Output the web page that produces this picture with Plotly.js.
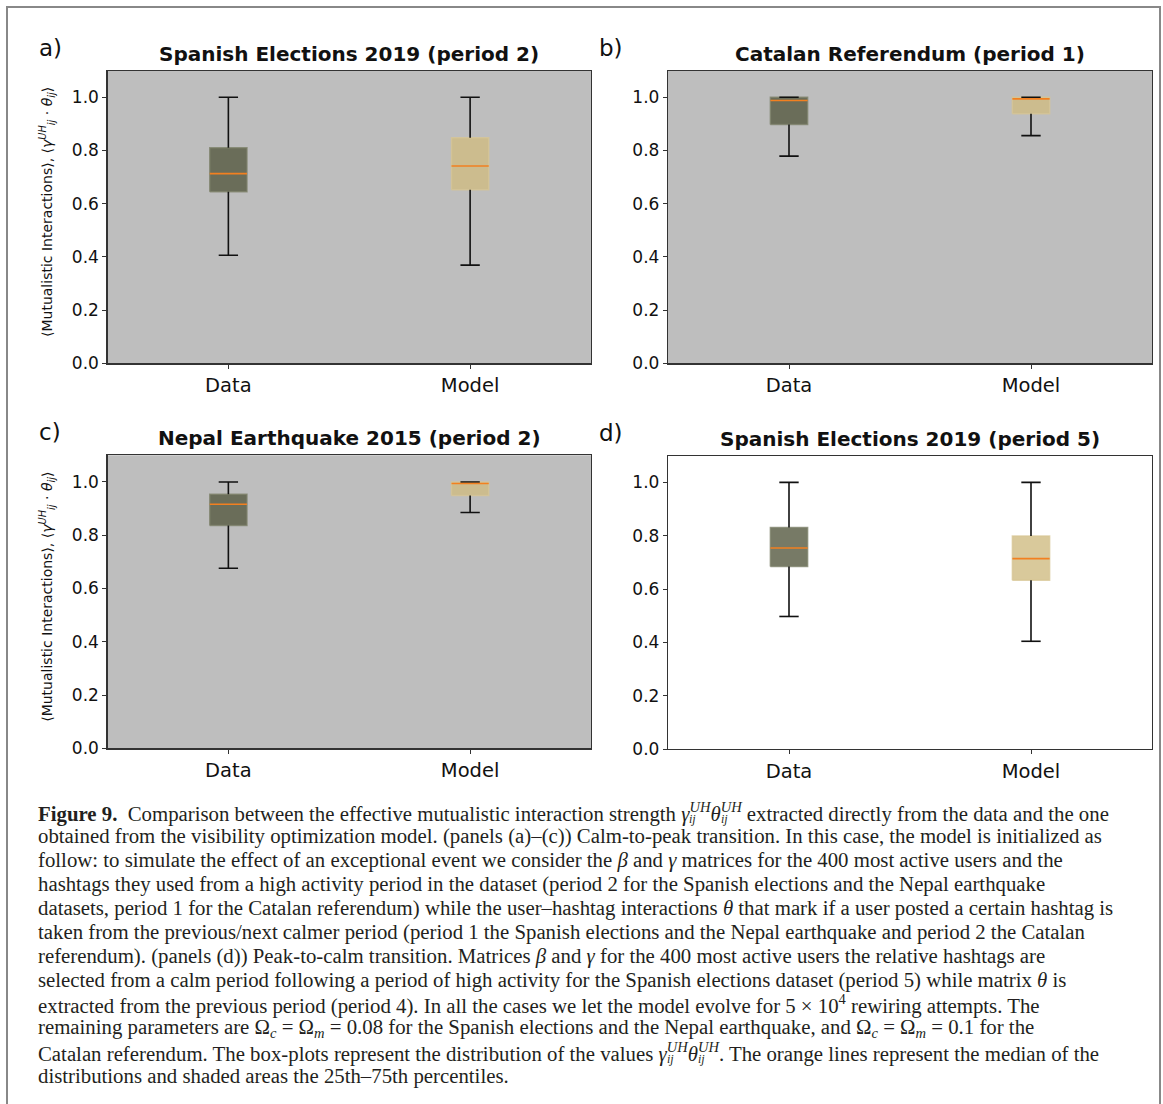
<!DOCTYPE html>
<html>
<head>
<meta charset="utf-8">
<script src="https://cdn.plot.ly/plotly-3.0.1.min.js"></script>
<style>html,body{margin:0;padding:0;background:#fff;}#chart{width:1163px;height:1104px;}</style>
</head>
<body>
<div id="chart"></div>
<script>
// ---------- DATA ----------
const categories = ['Data', 'Model'];
const positions = [1, 2];
const panelLabels = ['a)', 'b)', 'c)', 'd)'];
const panelTitles = [
  'Spanish Elections 2019 (period 2)',
  'Catalan Referendum (period 1)',
  'Nepal Earthquake 2015 (period 2)',
  'Spanish Elections 2019 (period 5)'
];

// panel a
const aLow  = [0.406, 0.369];
const aQ1   = [0.645, 0.652];
const aMed  = [0.713, 0.742];
const aQ3   = [0.810, 0.848];
const aHigh = [1.0, 1.0];
// panel b
const bLow  = [0.779, 0.856];
const bQ1   = [0.898, 0.938];
const bMed  = [0.988, 0.994];
const bQ3   = [1.0, 1.0];
const bHigh = [1.0, 1.0];
// panel c
const cLow  = [0.676, 0.885];
const cQ1   = [0.836, 0.949];
const cMed  = [0.916, 0.994];
const cQ3   = [0.954, 1.0];
const cHigh = [1.0, 1.0];
// panel d
const dLow  = [0.497, 0.404];
const dQ1   = [0.684, 0.633];
const dMed  = [0.754, 0.714];
const dQ3   = [0.831, 0.799];
const dHigh = [1.0, 1.0];

const yTickVals = [0.0, 0.2, 0.4, 0.6, 0.8, 1.0];
const yTitle = '⟨Mutualistic Interactions⟩, ⟨<i>γ</i><sup><i>UH</i></sup><sub><i>ij</i></sub> · <i>θ</i><sub><i>ij</i></sub>⟩';

const gUH = '<i>γ</i><sup><i>UH</i></sup><i>θ</i><sup><i>UH</i></sup>';
const captionLines = [
  '<b>Figure 9.</b>  Comparison between the effective mutualistic interaction strength ' + gUH + ' extracted directly from the data and the one',
  'obtained from the visibility optimization model. (panels (a)–(c)) Calm-to-peak transition. In this case, the model is initialized as',
  'follow: to simulate the effect of an exceptional event we consider the <i>β</i> and <i>γ</i> matrices for the 400 most active users and the',
  'hashtags they used from a high activity period in the dataset (period 2 for the Spanish elections and the Nepal earthquake',
  'datasets, period 1 for the Catalan referendum) while the user–hashtag interactions <i>θ</i> that mark if a user posted a certain hashtag is',
  'taken from the previous/next calmer period (period 1 the Spanish elections and the Nepal earthquake and period 2 the Catalan',
  'referendum). (panels (d)) Peak-to-calm transition. Matrices <i>β</i> and <i>γ</i> for the 400 most active users the relative hashtags are',
  'selected from a calm period following a period of high activity for the Spanish elections dataset (period 5) while matrix <i>θ</i> is',
  'extracted from the previous period (period 4). In all the cases we let the model evolve for 5 × 10<sup>4</sup> rewiring attempts. The',
  'remaining parameters are Ω<sub><i>c</i></sub> = Ω<sub><i>m</i></sub> = 0.08 for the Spanish elections and the Nepal earthquake, and Ω<sub><i>c</i></sub> = Ω<sub><i>m</i></sub> = 0.1 for the',
  'Catalan referendum. The box-plots represent the distribution of the values ' + gUH + '. The orange lines represent the median of the',
  'distributions and shaded areas the 25th–75th percentiles.'
];
// subscripts "ij" placed below the γ/θ superscripts in the caption
const captionSubs = [
  {line: 0, after: '<b>Figure 9.</b>  Comparison between the effective mutualistic interaction strength '},
  {line: 10, after: 'Catalan referendum. The box-plots represent the distribution of the values '}
];

// ---------- STYLE / LAYOUT ----------
const W = 1163, H = 1104;
const px = v => v / W;
const py = v => 1 - v / H;
const panels = [
  {low: aLow, q1: aQ1, med: aMed, q3: aQ3, high: aHigh, x0: 107.5, x1: 591, y0: 70.7, y1: 363.3, gray: true, ytitle: true},
  {low: bLow, q1: bQ1, med: bMed, q3: bQ3, high: bHigh, x0: 668, x1: 1152, y0: 70.7, y1: 363.3, gray: true, ytitle: false},
  {low: cLow, q1: cQ1, med: cMed, q3: cQ3, high: cHigh, x0: 107.5, x1: 591, y0: 455.3, y1: 748.3, gray: true, ytitle: true},
  {low: dLow, q1: dQ1, med: dMed, q3: dQ3, high: dHigh, x0: 668, x1: 1152, y0: 455.7, y1: 749, gray: false, ytitle: false}
];
const fills = ['rgba(85,89,64,0.8)', 'rgba(207,187,130,0.8)'];
const edges = ['rgba(125,129,106,0.75)', 'rgba(215,198,148,0.75)'];
const boxHalf = 0.077, capHalf = 0.04;
const capFont = {family: 'Liberation Serif', size: 20.8, color: '#231f20'};

const traces = [];
const layout = {
  width: W, height: H,
  margin: {l: 0, r: 0, t: 0, b: 0},
  paper_bgcolor: '#ffffff',
  plot_bgcolor: 'rgba(0,0,0,0)',
  showlegend: false,
  shapes: [],
  annotations: []
};

panels.forEach((p, i) => {
  const n = i === 0 ? '' : String(i + 1);
  const xa = 'x' + n, ya = 'y' + n;
  layout['xaxis' + n] = {
    domain: [px(p.x0), px(p.x1)], anchor: ya, range: [0.5, 2.5],
    tickvals: positions, ticktext: categories,
    showgrid: false, zeroline: false, showline: true, mirror: true,
    linecolor: '#333', linewidth: 1.2, ticks: 'outside', ticklen: 4, tickcolor: '#333',
    tickfont: {family: 'DejaVu Sans', size: 19.5, color: '#111'}, fixedrange: true
  };
  layout['yaxis' + n] = {
    domain: [py(p.y1), py(p.y0)], anchor: xa, range: [0, 1.1],
    tickvals: yTickVals, tickformat: '.1f',
    showgrid: false, zeroline: false, showline: true, mirror: true,
    linecolor: '#333', linewidth: 1.2, ticks: 'outside', ticklen: 4, tickcolor: '#333',
    tickfont: {family: 'DejaVu Sans', size: 17, color: '#111'}, fixedrange: true
  };
  if (p.gray) {
    layout.shapes.push({type: 'rect', xref: xa + ' domain', yref: ya + ' domain', x0: 0, x1: 1, y0: 0, y1: 1,
      fillcolor: '#bebebe', line: {width: 0}, layer: 'below'});
  }
  positions.forEach((pos, k) => {
    // box (25th-75th percentiles)
    traces.push({type: 'scatter', mode: 'lines', xaxis: xa, yaxis: ya, hoverinfo: 'skip',
      x: [pos - boxHalf, pos + boxHalf, pos + boxHalf, pos - boxHalf, pos - boxHalf],
      y: [p.q1[k], p.q1[k], p.q3[k], p.q3[k], p.q1[k]],
      fill: 'toself', fillcolor: fills[k], line: {color: edges[k], width: 1.5}});
    // whiskers
    traces.push({type: 'scatter', mode: 'lines', xaxis: xa, yaxis: ya, hoverinfo: 'skip',
      x: [pos, pos, null, pos, pos],
      y: [p.low[k], p.q1[k], null, p.q3[k], p.high[k]],
      line: {color: '#111', width: 1.6}});
    // caps
    traces.push({type: 'scatter', mode: 'lines', xaxis: xa, yaxis: ya, hoverinfo: 'skip',
      x: [pos - capHalf, pos + capHalf, null, pos - capHalf, pos + capHalf],
      y: [p.low[k], p.low[k], null, p.high[k], p.high[k]],
      line: {color: '#111', width: 1.6}});
    // median
    traces.push({type: 'scatter', mode: 'lines', xaxis: xa, yaxis: ya, hoverinfo: 'skip',
      x: [pos - boxHalf, pos + boxHalf], y: [p.med[k], p.med[k]],
      line: {color: '#f28020', width: 1.6}});
  });
  // panel title
  layout.annotations.push({xref: 'paper', yref: 'paper', x: px((p.x0 + p.x1) / 2), y: py(p.y0 - 17),
    text: '<b>' + panelTitles[i] + '</b>', showarrow: false, xanchor: 'center', yanchor: 'middle',
    font: {family: 'DejaVu Sans', size: 20, color: '#111'}});
  // panel label
  layout.annotations.push({xref: 'paper', yref: 'paper', x: px(p.x0 - 71), y: py(p.y0 - 23),
    text: panelLabels[i], showarrow: false, xanchor: 'left', yanchor: 'middle',
    font: {family: 'DejaVu Sans', size: 23, color: '#111'}});
  if (p.ytitle) {
    layout.annotations.push({xref: 'paper', yref: 'paper', x: px(47), y: py((p.y0 + p.y1) / 2 - 5),
      text: yTitle, showarrow: false, textangle: -90, xanchor: 'center', yanchor: 'middle',
      font: {family: 'DejaVu Sans', size: 14, color: '#111'}});
  }
});

// frame of the figure
layout.shapes.push({type: 'line', xref: 'paper', yref: 'paper', x0: px(7), x1: px(7), y0: py(7), y1: 0, line: {color: '#888', width: 2}});
layout.shapes.push({type: 'line', xref: 'paper', yref: 'paper', x0: px(1160), x1: px(1160), y0: py(7), y1: 0, line: {color: '#888', width: 2}});
layout.shapes.push({type: 'line', xref: 'paper', yref: 'paper', x0: px(6), x1: px(1161), y0: py(7), y1: py(7), line: {color: '#888', width: 2}});

// caption
captionLines.forEach((t, j) => {
  layout.annotations.push({xref: 'paper', yref: 'paper', x: px(36), y: py(812 + 24 * j),
    text: t, showarrow: false, xanchor: 'left', yanchor: 'middle', align: 'left', font: capFont});
});

Plotly.newPlot('chart', traces, layout, {displayModeBar: false, staticPlot: true}).then(() => {
  // measure where the γ^UH θ^UH symbols fall, and add small "ij" subscripts below them
  const ctx = document.createElement('canvas').getContext('2d');
  const adds = [];
  captionSubs.forEach(s => {
    ctx.font = '20.8px "Liberation Serif"';
    const plain = s.after.replace(/<[^>]+>/g, '');
    let w = ctx.measureText(plain.replace('Figure 9.', '')).width;
    ctx.font = 'bold 20.8px "Liberation Serif"';
    if (plain.indexOf('Figure 9.') >= 0) w += ctx.measureText('Figure 9.').width;
    ctx.font = 'italic 20.8px "Liberation Serif"';
    const gw = ctx.measureText('γ').width;
    ctx.font = 'italic 14.56px "Liberation Serif"';
    const uw = ctx.measureText('UH').width;
    ctx.font = 'italic 20.8px "Liberation Serif"';
    const tw = ctx.measureText('θ').width;
    const y = 812 + 24 * s.line + 7;
    adds.push({xref: 'paper', yref: 'paper', x: px(37 + w + gw), y: py(y), text: '<i>ij</i>', showarrow: false,
      xanchor: 'left', yanchor: 'middle', font: {family: 'Liberation Serif', size: 12, color: '#231f20'}, borderpad: 0});
    adds.push({xref: 'paper', yref: 'paper', x: px(37 + w + gw + uw + tw), y: py(y), text: '<i>ij</i>', showarrow: false,
      xanchor: 'left', yanchor: 'middle', font: {family: 'Liberation Serif', size: 12, color: '#231f20'}, borderpad: 0});
  });
  Plotly.relayout('chart', {annotations: layout.annotations.concat(adds)});
});
</script>
</body>
</html>
